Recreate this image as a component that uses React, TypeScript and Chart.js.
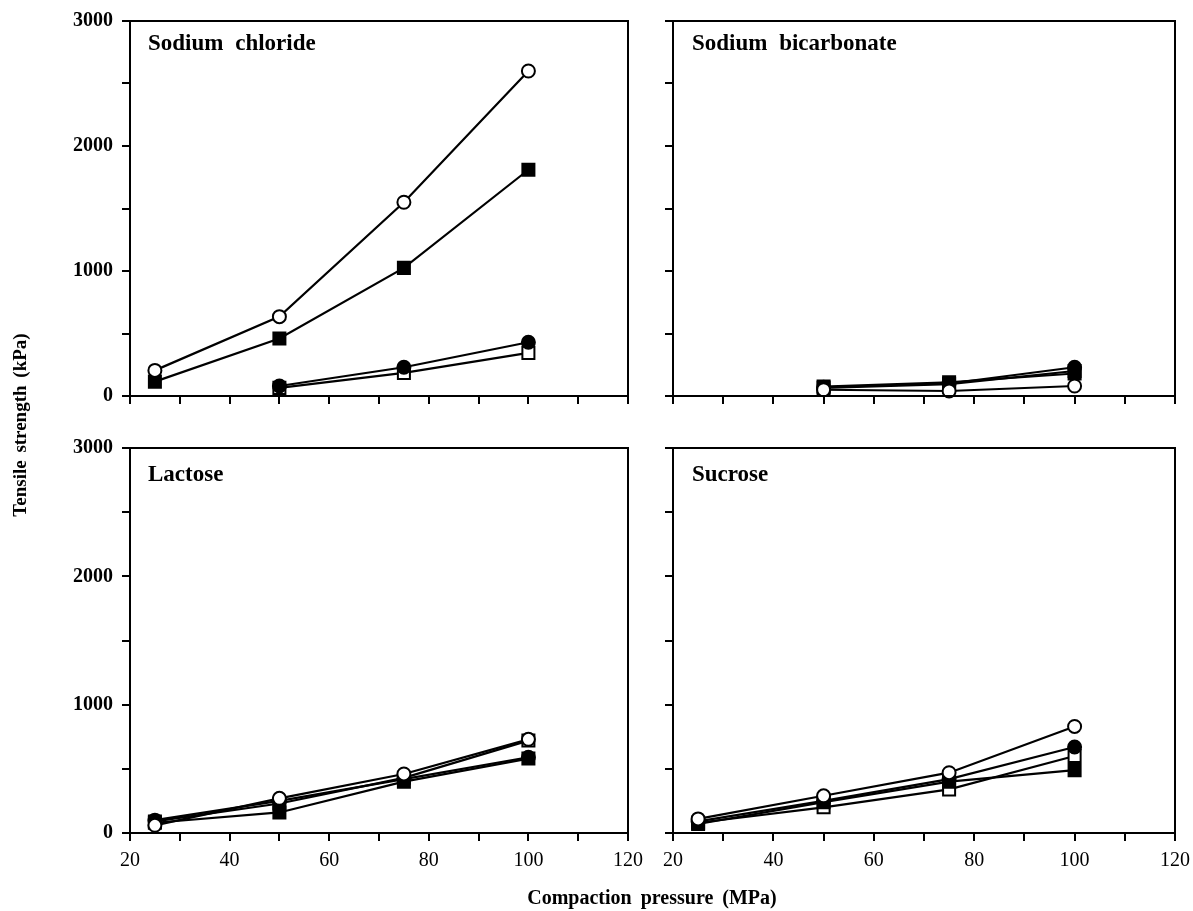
import React, { useEffect, useRef } from 'react';
import { Chart, registerables } from 'chart.js';
Chart.register(...registerables);

// ---- data ----
const pressures = [25, 50, 75, 100];
const laterPressures = [50, 75, 100];

const xTickLabels = [20, 40, 60, 80, 100, 120];
const yTickLabels = [0, 1000, 2000, 3000];

// Sodium chloride
const chlorideOpenCircle = [205, 635, 1550, 2600];
const chlorideFilledSquare = [115, 460, 1025, 1810];
const chlorideFilledCircle = [80, 230, 430];
const chlorideOpenSquare = [65, 185, 345];

// Sodium bicarbonate
const bicarbOpenCircle = [50, 40, 80];
const bicarbFilledSquare = [75, 110, 180];
const bicarbFilledCircle = [70, 100, 230];
const bicarbOpenSquare = [65, 95, 200];

// Lactose
const lactoseOpenCircle = [60, 270, 460, 730];
const lactoseFilledSquare = [80, 160, 400, 580];
const lactoseFilledCircle = [100, 250, 420, 590];
const lactoseOpenSquare = [90, 230, 430, 720];

// Sucrose
const sucroseOpenCircle = [110, 290, 470, 830];
const sucroseFilledCircle = [90, 250, 420, 670];
const sucroseOpenSquare = [80, 200, 340, 600];
const sucroseFilledSquare = [70, 240, 400, 490];

const SERIF = "'Liberation Serif', 'Times New Roman', serif";

type Marker = 'openCircle' | 'filledCircle' | 'openSquare' | 'filledSquare';

function makeDataset(xs: number[], ys: number[], marker: Marker) {
  const isSquare = marker === 'openSquare' || marker === 'filledSquare';
  const filled = marker === 'filledCircle' || marker === 'filledSquare';
  return {
    data: xs.map((x, i) => ({ x, y: ys[i] })),
    borderColor: '#000',
    borderWidth: 2.2,
    backgroundColor: filled ? '#000' : '#fff',
    pointBackgroundColor: filled ? '#000' : '#fff',
    pointBorderColor: '#000',
    pointBorderWidth: 2,
    pointStyle: isSquare ? 'rect' : 'circle',
    pointRadius: isSquare ? 8.5 : 6.5,
    tension: 0,
    fill: false,
    clip: false as any,
  };
}

const boxPlugin = {
  id: 'box',
  afterDatasetsDraw(chart: any) {
    const { ctx, chartArea } = chart;
    ctx.save();
    ctx.strokeStyle = '#000';
    ctx.lineWidth = 2;
    ctx.strokeRect(chartArea.left, chartArea.top, chartArea.right - chartArea.left, chartArea.bottom - chartArea.top);
    ctx.restore();
  },
};

interface PanelProps {
  left: number;
  top: number;
  width: number;
  height: number;
  yW: number;
  xH: number;
  padTop: number;
  padRight: number;
  showX: boolean;
  showY: boolean;
  datasets: any[];
}

function Panel(p: PanelProps) {
  const ref = useRef<HTMLCanvasElement | null>(null);
  useEffect(() => {
    if (!ref.current) return;
    const chart = new Chart(ref.current, {
      type: 'line',
      data: { datasets: p.datasets },
      options: {
        animation: false,
        responsive: false,
        maintainAspectRatio: false,
        layout: { padding: { top: p.padTop, right: p.padRight, left: 0, bottom: 0 } },
        plugins: { legend: { display: false }, tooltip: { enabled: false } },
        scales: {
          x: {
            type: 'linear',
            min: 20,
            max: 120,
            afterBuildTicks: (s: any) => {
              const t = [];
              for (let v = 20; v <= 120; v += 10) t.push({ value: v });
              s.ticks = t;
            },
            afterFit: (s: any) => {
              s.height = p.xH;
            },
            ticks: {
              autoSkip: false,
              maxRotation: 0,
              padding: 8,
              color: '#000',
              font: { family: SERIF, size: 20 },
              callback: (v: any) => (p.showX && xTickLabels.includes(Number(v)) ? String(v) : ''),
            },
            grid: { drawOnChartArea: false, drawTicks: true, tickLength: 8, color: '#000', lineWidth: 2 },
            border: { color: '#000', width: 2 },
          },
          y: {
            type: 'linear',
            min: 0,
            max: 3000,
            afterBuildTicks: (s: any) => {
              const t = [];
              for (let v = 0; v <= 3000; v += 500) t.push({ value: v });
              s.ticks = t;
            },
            afterFit: (s: any) => {
              s.width = p.yW;
            },
            ticks: {
              autoSkip: false,
              padding: 9,
              color: '#000',
              font: { family: SERIF, size: 20, weight: 'bold' },
              callback: (v: any) => (p.showY && yTickLabels.includes(Number(v)) ? String(v) : ''),
            },
            grid: { drawOnChartArea: false, drawTicks: true, tickLength: 8, color: '#000', lineWidth: 2 },
            border: { color: '#000', width: 2 },
          },
        },
      } as any,
      plugins: [boxPlugin],
    });
    return () => chart.destroy();
  }, []);
  return (
    <canvas
      ref={ref}
      width={p.width}
      height={p.height}
      style={{ position: 'absolute', left: p.left, top: p.top, width: p.width, height: p.height }}
    />
  );
}

const titleStyle: React.CSSProperties = {
  position: 'absolute',
  fontFamily: SERIF,
  fontWeight: 'bold',
  fontSize: 23,
  lineHeight: '26px',
  wordSpacing: 6,
  color: '#000',
  whiteSpace: 'nowrap',
};

export default function App() {
  const chlorideSets = [
    makeDataset(pressures, chlorideOpenCircle, 'openCircle'),
    makeDataset(pressures, chlorideFilledSquare, 'filledSquare'),
    makeDataset(laterPressures, chlorideFilledCircle, 'filledCircle'),
    makeDataset(laterPressures, chlorideOpenSquare, 'openSquare'),
  ];
  const bicarbSets = [
    makeDataset(laterPressures, bicarbOpenCircle, 'openCircle'),
    makeDataset(laterPressures, bicarbFilledSquare, 'filledSquare'),
    makeDataset(laterPressures, bicarbFilledCircle, 'filledCircle'),
    makeDataset(laterPressures, bicarbOpenSquare, 'openSquare'),
  ];
  const lactoseSets = [
    makeDataset(pressures, lactoseOpenCircle, 'openCircle'),
    makeDataset(pressures, lactoseFilledSquare, 'filledSquare'),
    makeDataset(pressures, lactoseFilledCircle, 'filledCircle'),
    makeDataset(pressures, lactoseOpenSquare, 'openSquare'),
  ];
  const sucroseSets = [
    makeDataset(pressures, sucroseOpenCircle, 'openCircle'),
    makeDataset(pressures, sucroseFilledSquare, 'filledSquare'),
    makeDataset(pressures, sucroseFilledCircle, 'filledCircle'),
    makeDataset(pressures, sucroseOpenSquare, 'openSquare'),
  ];

  return (
    <div style={{ position: 'absolute', left: 0, top: 0, width: 1193, height: 911, background: '#fff', overflow: 'hidden' }}>
      <Panel left={0} top={0} width={660} height={422} yW={130} xH={26} padTop={18} padRight={32} showX={false} showY={true} datasets={chlorideSets} />
      <Panel left={650} top={0} width={560} height={422} yW={23} xH={26} padTop={18} padRight={35} showX={false} showY={false} datasets={bicarbSets} />
      <Panel left={0} top={422} width={660} height={489} yW={130} xH={78} padTop={26} padRight={32} showX={true} showY={true} datasets={lactoseSets} />
      <Panel left={650} top={422} width={560} height={489} yW={23} xH={78} padTop={26} padRight={35} showX={true} showY={false} datasets={sucroseSets} />

      <div style={{ ...titleStyle, left: 148, top: 30 }}>Sodium chloride</div>
      <div style={{ ...titleStyle, left: 692, top: 30 }}>Sodium bicarbonate</div>
      <div style={{ ...titleStyle, left: 148, top: 461 }}>Lactose</div>
      <div style={{ ...titleStyle, left: 692, top: 461 }}>Sucrose</div>

      <div
        style={{
          position: 'absolute',
          left: 452,
          top: 885,
          width: 400,
          textAlign: 'center',
          fontFamily: SERIF,
          fontWeight: 'bold',
          fontSize: 20,
          lineHeight: '24px',
          wordSpacing: 4,
          color: '#000',
        }}
      >
        Compaction pressure (MPa)
      </div>
      <div
        style={{
          position: 'absolute',
          left: 20 - 150,
          top: 425 - 12,
          width: 300,
          textAlign: 'center',
          fontFamily: SERIF,
          fontWeight: 'bold',
          fontSize: 19,
          lineHeight: '24px',
          wordSpacing: 3,
          color: '#000',
          transform: 'rotate(-90deg)',
          transformOrigin: 'center center',
        }}
      >
        Tensile strength (kPa)
      </div>
    </div>
  );
}
